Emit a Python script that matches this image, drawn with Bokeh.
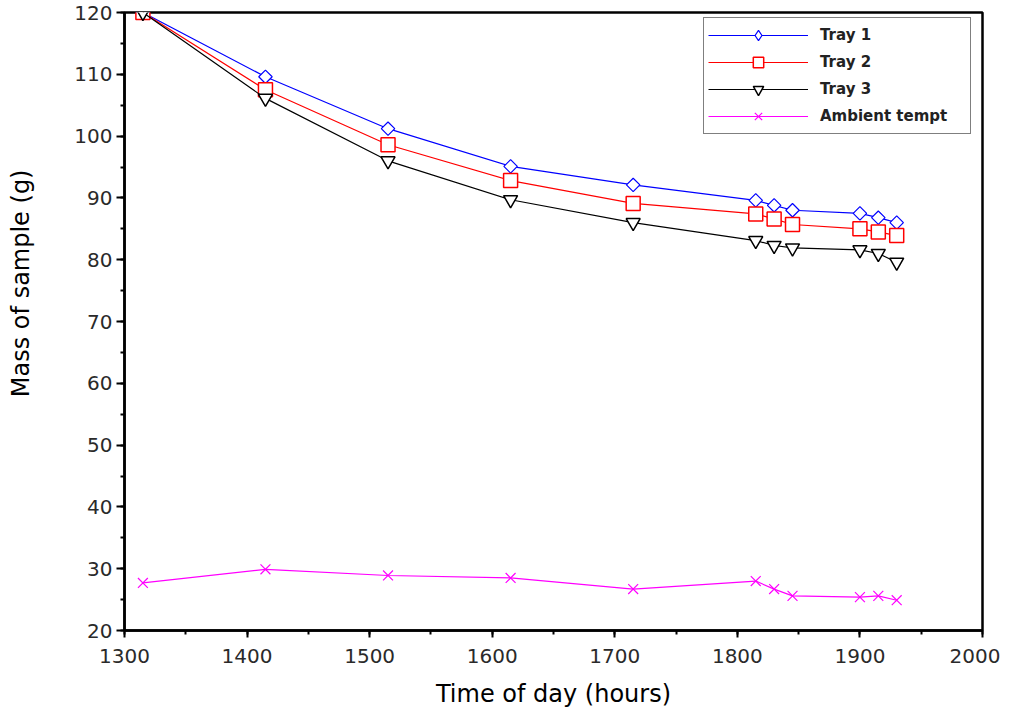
from bokeh.plotting import figure
from bokeh.models import Range1d, SingleIntervalTicker, Legend, LegendItem, LinearAxis, FixedTicker
from bokeh.embed import file_html
from bokeh.resources import INLINE
import math

hours = [1315, 1415, 1515, 1615, 1715, 1815, 1830, 1845, 1900, 1915, 1930]
tray1 = [120, 109.6, 101.2, 95.1, 92.1, 89.6, 88.8, 88.0, 87.5, 86.8, 86.0]
tray2 = [120, 107.5, 98.6, 92.8, 89.1, 87.4, 86.6, 85.7, 85.0, 84.5, 83.9]
tray3 = [120, 106.1, 96.0, 89.7, 86.0, 83.1, 82.3, 81.9, 81.6, 81.0, 79.6]
ambient = [27.7, 29.9, 28.9, 28.5, 26.7, 28.0, 26.7, 25.6, 25.4, 25.6, 24.9]

FONT = "DejaVu Sans"

p = figure(width=1000, height=717, output_backend="svg", toolbar_location=None,
           x_range=Range1d(1300, 2000), y_range=Range1d(20, 120),
           min_border_left=124, min_border_right=18, min_border_top=12, min_border_bottom=87)
p.background_fill_color = "white"
p.border_fill_color = "white"
p.outline_line_color = "black"
p.outline_line_width = 2.5
p.xgrid.visible = False
p.ygrid.visible = False

for ax, tk in ((p.xaxis, SingleIntervalTicker(interval=100, num_minor_ticks=2)),
               (p.yaxis, SingleIntervalTicker(interval=10, num_minor_ticks=2))):
    ax.ticker = tk
    ax.axis_line_width = 2.5
    ax.axis_line_color = "black"
    ax.major_tick_line_width = 2
    ax.minor_tick_line_width = 2
    ax.major_tick_line_color = "black"
    ax.minor_tick_line_color = "black"
    ax.major_tick_in = 0
    ax.minor_tick_in = 0
    ax.major_label_text_font = FONT
    ax.major_label_text_font_size = "20px"
    ax.major_label_text_color = "#2a2a2a"
    ax.axis_label_text_font = FONT
    ax.axis_label_text_font_style = "normal"
    ax.axis_label_text_font_size = "24px"
    ax.axis_label_text_color = "black"

p.xaxis.major_tick_out = 7
p.xaxis.minor_tick_out = 4
p.yaxis.major_tick_out = 8
p.yaxis.minor_tick_out = 4
p.xaxis.major_label_standoff = 11
p.yaxis.major_label_standoff = 4
p.xaxis.axis_label = "Time of day (hours)"
p.xaxis.axis_label_standoff = 14

# outer, label-only axis carrying the y title; leading no-break spaces lift the
# visible text above the centre, as in the original
title_axis = LinearAxis(ticker=FixedTicker(ticks=[], minor_ticks=[]),
                        axis_label="\u00a0" * 10 + "Mass of sample (g)",
                        axis_label_standoff=37, axis_label_text_font=FONT,
                        axis_label_text_font_size="24px", axis_label_text_font_style="normal",
                        axis_label_text_color="black", axis_line_color=None,
                        major_tick_out=0, minor_tick_out=0, major_tick_in=0, minor_tick_in=0,
                        major_tick_line_color=None, minor_tick_line_color=None,
                        major_label_standoff=0)
p.add_layout(title_axis, "left")

l1 = p.line(hours, tray1, line_color="#0000FF", line_width=1.2)
# diamond drawn underneath the rotated squares; it provides the legend glyph
leg1 = p.scatter(hours, tray1, marker="diamond", size=11,
                 line_color="#0000FF", fill_color="white", line_width=1.2)
m1 = p.scatter(hours, tray1, marker="square", angle=math.pi / 4, size=9.5,
               line_color="#0000FF", fill_color="white", line_width=1.2)
l2 = p.line(hours, tray2, line_color="#FF0000", line_width=1.2)
m2 = p.scatter(hours, tray2, marker="square", size=14,
               line_color="#FF0000", fill_color="white", line_width=1.5)
l3 = p.line(hours, tray3, line_color="black", line_width=1.2)
m3 = p.scatter(hours, tray3, marker="inverted_triangle", size=14,
               line_color="black", fill_color="white", line_width=1.5)
l4 = p.line(hours, ambient, line_color="#FF00FF", line_width=1.2)
m4 = p.scatter(hours, ambient, marker="x", size=14,
               line_color="#FF00FF", line_width=1.2)

legend = Legend(items=[
    LegendItem(label="Tray 1", renderers=[l1, leg1]),
    LegendItem(label="Tray 2", renderers=[l2, m2]),
    LegendItem(label="Tray 3", renderers=[l3, m3]),
    LegendItem(label="Ambient tempt", renderers=[l4, m4]),
], location=(579, 496))
legend.margin = 0
legend.padding = 4
legend.spacing = 1
legend.glyph_width = 100
legend.glyph_height = 26
legend.label_height = 20
legend.label_width = 146
legend.label_standoff = 12
legend.label_text_font = FONT
legend.label_text_font_size = "15px"
legend.label_text_font_style = "bold"
legend.label_text_color = "#222222"
legend.border_line_color = "black"
legend.border_line_width = 1.5
legend.background_fill_color = "white"
legend.background_fill_alpha = 1
p.add_layout(legend)

open("out.html", "w").write(file_html(p, INLINE))
